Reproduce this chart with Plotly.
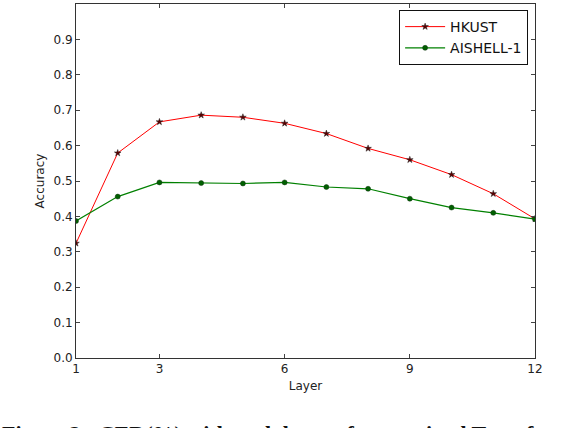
import plotly.graph_objects as go

layers = list(range(1, 13))
hkust = [0.324, 0.579, 0.667, 0.686, 0.680, 0.663, 0.634, 0.592, 0.560, 0.518, 0.464, 0.393]
aishell = [0.387, 0.456, 0.496, 0.494, 0.493, 0.496, 0.483, 0.478, 0.450, 0.425, 0.410, 0.392]
x_ticks = [1, 3, 6, 9, 12]
y_ticks = [0.0, 0.1, 0.2, 0.3, 0.4, 0.5, 0.6, 0.7, 0.8, 0.9]
caption = "Figure 2:  CER(%) with each layer of pre-trained Transformer"

font = "DejaVu Sans, sans-serif"

fig = go.Figure()
fig.add_trace(go.Scatter(
    x=layers, y=hkust, name="HKUST", mode="lines+markers",
    line=dict(color="#ff0000", width=1),
    marker=dict(symbol="star", size=5, color="#5a0000", line=dict(color="#222", width=0.5)),
))
fig.add_trace(go.Scatter(
    x=layers, y=aishell, name="AISHELL-1", mode="lines+markers",
    line=dict(color="#008000", width=1.2),
    marker=dict(symbol="circle", size=5, color="#006000", line=dict(color="#113311", width=0.5)),
))

axis_common = dict(
    showline=True, linecolor="#333", linewidth=1, mirror="ticks",
    ticks="inside", ticklen=4, tickcolor="#444", showgrid=False, zeroline=False,
    tickfont=dict(family=font, size=12, color="#222"), automargin=False,
)
fig.update_xaxes(range=[1, 12], tickvals=x_ticks, ticktext=[str(v) for v in x_ticks],
                 title=dict(text="Layer", font=dict(family=font, size=12, color="#222"), standoff=6),
                 **axis_common)
fig.update_yaxes(range=[0, 1.0], tickvals=y_ticks, ticktext=[f"{v:.1f}" for v in y_ticks],
                 title=dict(text="Accuracy", font=dict(family=font, size=12, color="#222"), standoff=6),
                 **axis_common)

fig.add_annotation(
    text="<b>" + caption + "</b>", xref="paper", yref="paper",
    x=-76 / 459, y=-0.172, xanchor="left", yanchor="top", showarrow=False,
    font=dict(family="Liberation Serif, serif", size=22, color="#111"),
)

fig.update_layout(
    width=566, height=428,
    margin=dict(l=76, r=31, t=4, b=70),
    paper_bgcolor="white", plot_bgcolor="white",
    legend=dict(x=0.985, y=0.983, xanchor="right", yanchor="top",
                bordercolor="#111", borderwidth=1, bgcolor="white",
                font=dict(family=font, size=14, color="#111"),
                itemwidth=40, tracegroupgap=4),
    showlegend=True,
)

fig.write_html("out.html", config={"displayModeBar": False},
               post_script="document.body.style.margin='0';document.body.style.overflow='hidden';")
